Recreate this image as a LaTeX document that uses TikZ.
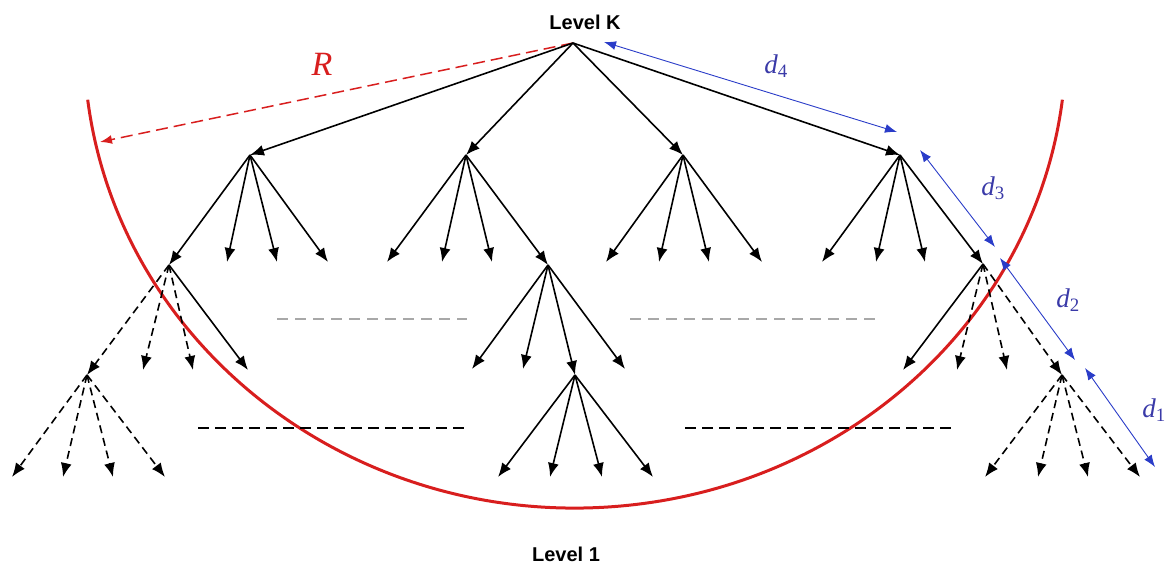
\documentclass[tikz,border=0pt]{standalone}
\usepackage{xcolor}
\usepackage{tikz}
\usetikzlibrary{arrows.meta}
\usepackage{fontspec}
\setmainfont{Liberation Serif}
\setsansfont{Liberation Sans}
\definecolor{rimred}{HTML}{D81E1E}
\definecolor{dimblue}{HTML}{2A3CC8}
\definecolor{dimtext}{HTML}{3A3AA8}
\definecolor{dotgray}{HTML}{A8A8A8}
\newcommand{\dsub}[1]{\itshape d\textsubscript{\upshape #1}}

\begin{document}
\begin{tikzpicture}[x=1pt,y=-1pt,
  edge/.style={black,line width=1.6pt,-{Latex[length=14pt,width=11pt]}},
  dedge/.style={edge,dash pattern=on 8pt off 5pt},
  dim/.style={dimblue,line width=0.9pt,{Latex[length=12pt,width=9pt]}-{Latex[length=12pt,width=9pt]}},
  lvl/.style={font=\sffamily\bfseries\fontsize{20}{22}\selectfont},
  dlab/.style={text=dimtext,font=\fontsize{27}{30}\selectfont}]
  \useasboundingbox (0,0) rectangle (1168,564);

  % tree nodes
  \coordinate (k) at (573,43);
  \foreach \x [count=\i] in {250,466,683,900} \coordinate (m\i) at (\x,155);
  \coordinate (a) at (169,265);
  \coordinate (b) at (548,265);
  \coordinate (c) at (983,264);
  \coordinate (d) at (87,375);
  \coordinate (e) at (575,375);
  \coordinate (f) at (1062,375);

  % leaves
  \foreach \x [count=\i] in {227,277,328} \coordinate (m1-\i) at (\x,262);
  \foreach \x [count=\i] in {387,442,492} \coordinate (m2-\i) at (\x,262);
  \foreach \x [count=\i] in {606,659,709,762} \coordinate (m3-\i) at (\x,262);
  \foreach \x [count=\i] in {822,876,925} \coordinate (m4-\i) at (\x,262);
  \foreach \x [count=\i] in {143,193,248} \coordinate (a-\i) at (\x,370);
  \foreach \x [count=\i] in {472,523,625} \coordinate (b-\i) at (\x,369);
  \foreach \x [count=\i] in {903,957,1007} \coordinate (c-\i) at (\x,370);
  \foreach \x [count=\i] in {12,63,113,165} \coordinate (d-\i) at (\x,477);
  \foreach \x [count=\i] in {498,550,602,653} \coordinate (e-\i) at (\x,477);
  \foreach \x [count=\i] in {985,1038,1088,1140} \coordinate (f-\i) at (\x,477);

  % red rim and radius
  \draw[rimred,line width=3pt] (87.7,99.7) arc[start angle=173,end angle=7,x radius=491,y radius=465];
  \coordinate (rtip) at (100,142);
  \draw[rimred,line width=1.5pt,dash pattern=on 12pt off 6pt,-{Latex[length=12pt,width=9pt]}] (k) -- (rtip);
  \node[text=rimred,font=\itshape\fontsize{34}{36}\selectfont] (rlab) at (322,64) {R};

  % level K to level 2
  \foreach \n in {1,...,4} \draw[edge] (k) -- (m\n);
  \draw[edge] (m1) -- (a);
  \foreach \i in {1,2,3} \draw[edge] (m1) -- (m1-\i);
  \foreach \i in {1,2,3} \draw[edge] (m2) -- (m2-\i);
  \draw[edge] (m2) -- (b);
  \foreach \i in {1,...,4} \draw[edge] (m3) -- (m3-\i);
  \foreach \i in {1,2,3} \draw[edge] (m4) -- (m4-\i);
  \draw[edge] (m4) -- (c);

  % level 2 to level 1
  \draw[dedge] (a) -- (d);
  \draw[dedge] (a) -- (a-1);
  \draw[dedge] (a) -- (a-2);
  \draw[edge] (a) -- (a-3);
  \foreach \i in {1,2} \draw[edge] (b) -- (b-\i);
  \draw[edge] (b) -- (e);
  \draw[edge] (b) -- (b-3);
  \draw[edge] (c) -- (c-1);
  \draw[dedge] (c) -- (c-2);
  \draw[dedge] (c) -- (c-3);
  \draw[dedge] (c) -- (f);
  \foreach \i in {1,...,4} {
    \draw[dedge] (d) -- (d-\i);
    \draw[edge] (e) -- (e-\i);
    \draw[dedge] (f) -- (f-\i);
  }

  % omitted levels
  \coordinate (g1) at (277,319); \coordinate (g2) at (467,319);
  \coordinate (g3) at (630,319); \coordinate (g4) at (875,319);
  \coordinate (h1) at (198,428); \coordinate (h2) at (467,428);
  \coordinate (h3) at (685,428); \coordinate (h4) at (955,428);
  \draw[dotgray,line width=1.4pt,dash pattern=on 11pt off 7pt] (g1) -- (g2);
  \draw[dotgray,line width=1.4pt,dash pattern=on 11pt off 7pt] (g3) -- (g4);
  \draw[black,line width=1.2pt,dash pattern=on 11pt off 6pt] (h1) -- (h2);
  \draw[black,line width=1.2pt,dash pattern=on 11pt off 6pt] (h3) -- (h4);

  % distances
  \coordinate (p4) at (604,42);  \coordinate (q4) at (897,132);
  \coordinate (p3) at (920,150); \coordinate (q3) at (995,247);
  \coordinate (p2) at (1000,258); \coordinate (q2) at (1075,360);
  \coordinate (p1) at (1085,368); \coordinate (q1) at (1155,467);
  \draw[dim] (p4) -- (q4);
  \draw[dim] (p3) -- (q3);
  \draw[dim] (p2) -- (q2);
  \draw[dim] (p1) -- (q1);
  \node[dlab] (d4) at (776,66) {\dsub{4}};
  \node[dlab] (d3) at (993,188) {\dsub{3}};
  \node[dlab] (d2) at (1068,300) {\dsub{2}};
  \node[dlab] (d1) at (1154,410) {\dsub{1}};

  % levels
  \node[lvl] (lk) at (585,22) {Level K};
  \node[lvl] (l1) at (566,554) {Level 1};
\end{tikzpicture}
\end{document}
